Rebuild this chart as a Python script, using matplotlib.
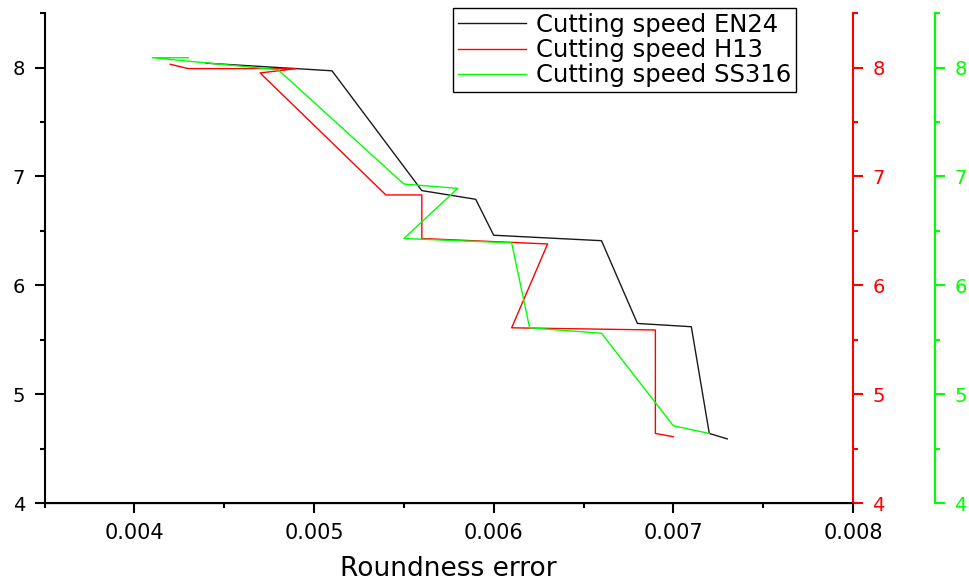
import matplotlib.pyplot as plt
from matplotlib.ticker import MultipleLocator

plt.rcParams['font.family'] = ['DejaVu Sans']

# roundness error (x) vs cutting speed (y)
en24_x = [0.0044, 0.0051, 0.0056, 0.0059, 0.0060, 0.0066, 0.0068, 0.0071, 0.0072, 0.0073]
en24_y = [8.04, 7.97, 6.87, 6.79, 6.46, 6.41, 5.65, 5.62, 4.64, 4.59]

h13_x = [0.0042, 0.0043, 0.0049, 0.0047, 0.0054, 0.0056, 0.0056, 0.0063, 0.0061, 0.0069, 0.0069, 0.0070]
h13_y = [8.03, 7.99, 7.99, 7.95, 6.83, 6.83, 6.43, 6.38, 5.61, 5.59, 4.64, 4.61]

ss316_x = [0.0043, 0.0041, 0.0048, 0.0055, 0.0058, 0.0055, 0.0061, 0.0062, 0.0066, 0.0070, 0.0072]
ss316_y = [8.09, 8.09, 7.98, 6.93, 6.89, 6.43, 6.39, 5.61, 5.56, 4.71, 4.64]

labels = ["Cutting speed EN24", "Cutting speed H13", "Cutting speed SS316"]
red = '#ff0000'
green = '#00ff00'

fig = plt.figure(figsize=(9.7, 5.81), dpi=100)
ax = fig.add_axes([0.0459, 0.134, 0.8335, 0.8435])
ax2 = ax.twinx()
ax3 = ax.twinx()

l1, = ax.plot(en24_x, en24_y, color='#1a1a1a', lw=1)
l2, = ax2.plot(h13_x, h13_y, color=red, lw=1)
l3, = ax3.plot(ss316_x, ss316_y, color=green, lw=1)

ax.set_xlim(0.0035, 0.008)
for a in (ax, ax2, ax3):
    a.set_ylim(4, 8.5)
    a.yaxis.set_major_locator(MultipleLocator(1))
    a.yaxis.set_minor_locator(MultipleLocator(0.5))
    a.spines['top'].set_visible(False)

ax.xaxis.set_major_locator(MultipleLocator(0.001))
ax.xaxis.set_minor_locator(MultipleLocator(0.0005))
ax.spines['right'].set_visible(False)
ax.spines['left'].set_linewidth(1.5)
ax.spines['bottom'].set_linewidth(1.5)
ax.tick_params(which='major', length=7, width=1.5, pad=7)
ax.tick_params(which='minor', length=3.5, width=1.5)
ax.tick_params(axis='y', labelsize=14)
ax.tick_params(axis='x', labelsize=15)
ax.set_xlabel("Roundness error", fontsize=19, labelpad=10)

for a, c in ((ax2, red), (ax3, green)):
    a.spines['left'].set_visible(False)
    a.spines['right'].set_color(c)
    a.spines['right'].set_linewidth(1.5)
    a.tick_params(which='both', colors=c, width=1.5, labelsize=14)
    a.tick_params(which='major', length=7, pad=7)
    a.tick_params(which='minor', length=3.5)
ax3.spines['right'].set_position(('outward', 59))

leg = fig.legend([l1, l2, l3], labels, loc='upper left',
                 bbox_to_anchor=(453 / 970, 1 - 8 / 581), fontsize=17.5,
                 frameon=True, fancybox=False, framealpha=1,
                 edgecolor='black', handlelength=2.8, handletextpad=0.4,
                 labelspacing=0.05, borderpad=0.2, borderaxespad=0)
leg.get_frame().set_linewidth(1)

fig.savefig('out.png', dpi=100)
